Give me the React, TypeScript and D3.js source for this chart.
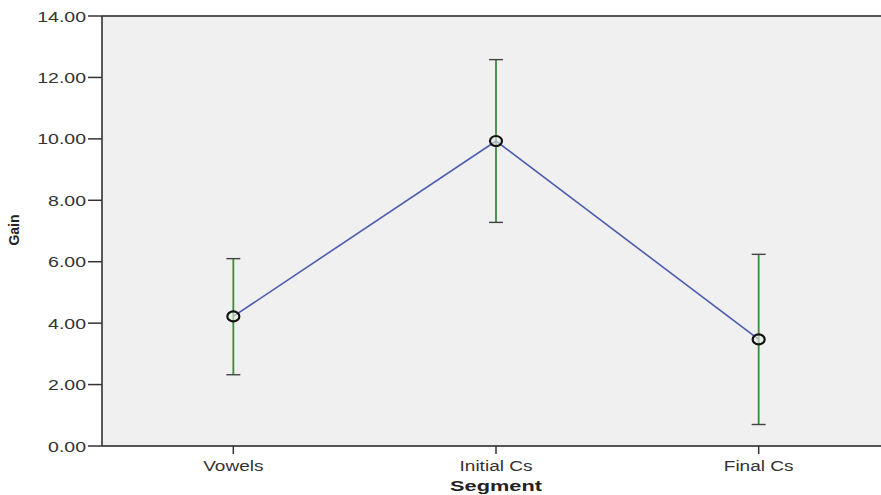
import React from "react";
import * as d3 from "d3";

const categories = ["Vowels", "Initial Cs", "Final Cs"];
const means = [4.22, 9.93, 3.47];
const upper = [6.1, 12.58, 6.24];
const lower = [2.32, 7.28, 0.7];
const yTicks = [0, 2, 4, 6, 8, 10, 12, 14];

const W = 881;
const H = 495;
const left = 102;
const top = 16;
const bottom = 446;
const right = 890;

export default function App() {
  const x = d3.scalePoint<string>().domain(categories).range([left, right]).padding(0.5);
  const y = d3.scaleLinear().domain([0, 14]).range([bottom, top]);
  const line = d3
    .line<number>()
    .x((_, i) => x(categories[i]) as number)
    .y((d) => y(d));
  const font = "'Liberation Sans', Arial, sans-serif";
  return (
    <svg
      width={W}
      height={H}
      style={{ position: "absolute", left: 0, top: 0, background: "#fff" }}
      fontFamily={font}
    >
      <rect x={left} y={top} width={right - left} height={bottom - top} fill="#f0f0f0" />
      <line x1={left} x2={right} y1={top} y2={top} stroke="#555" strokeWidth={2} />
      <line x1={left} x2={right} y1={bottom} y2={bottom} stroke="#555" strokeWidth={2} />
      <line x1={left} x2={left} y1={top} y2={bottom} stroke="#333" strokeWidth={1.6} />
      {yTicks.map((t) => (
        <g key={t}>
          <line x1={left - 14} x2={left} y1={y(t)} y2={y(t)} stroke="#333" strokeWidth={1.5} />
          <text
            transform={`translate(86,${y(t) + 5.5}) scale(1.3,1)`}
            textAnchor="end"
            fontSize={15}
            fill="#333"
          >
            {t.toFixed(2)}
          </text>
        </g>
      ))}
      {categories.map((c) => (
        <g key={c}>
          <line x1={x(c)} x2={x(c)} y1={bottom} y2={bottom + 8} stroke="#333" strokeWidth={1.5} />
          <text
            transform={`translate(${x(c)},${bottom + 25}) scale(1.27,1)`}
            textAnchor="middle"
            fontSize={15}
            fill="#333"
          >
            {c}
          </text>
        </g>
      ))}
      <text
        transform={`translate(${x("Initial Cs")},${491}) scale(1.45,1)`}
        textAnchor="middle"
        fontSize={15}
        fontWeight="bold"
        fill="#222"
      >
        Segment
      </text>
      <text
        transform={`translate(18.5,${230}) rotate(-90)`}
        textAnchor="middle"
        fontSize={14}
        fontWeight="bold"
        fill="#222"
      >
        Gain
      </text>
      {categories.map((c, i) => {
        const cx = x(c) as number;
        return (
          <g key={c} stroke="#3c8a3c" strokeWidth={1.8}>
            <line x1={cx} x2={cx} y1={y(upper[i])} y2={y(lower[i])} />
            <line x1={cx - 7} x2={cx + 7} y1={y(upper[i])} y2={y(upper[i])} stroke="#444" strokeWidth={1.4} />
            <line x1={cx - 7} x2={cx + 7} y1={y(lower[i])} y2={y(lower[i])} stroke="#444" strokeWidth={1.4} />
          </g>
        );
      })}
      <path d={line(means) || ""} fill="none" stroke="#4a5cb0" strokeWidth={1.6} />
      {categories.map((c, i) => (
        <ellipse
          key={c}
          cx={x(c)}
          cy={y(means[i])}
          rx={6}
          ry={5}
          fill="#e8f0e0"
          fillOpacity={0.6}
          stroke="#111"
          strokeWidth={2.2}
        />
      ))}
    </svg>
  );
}
